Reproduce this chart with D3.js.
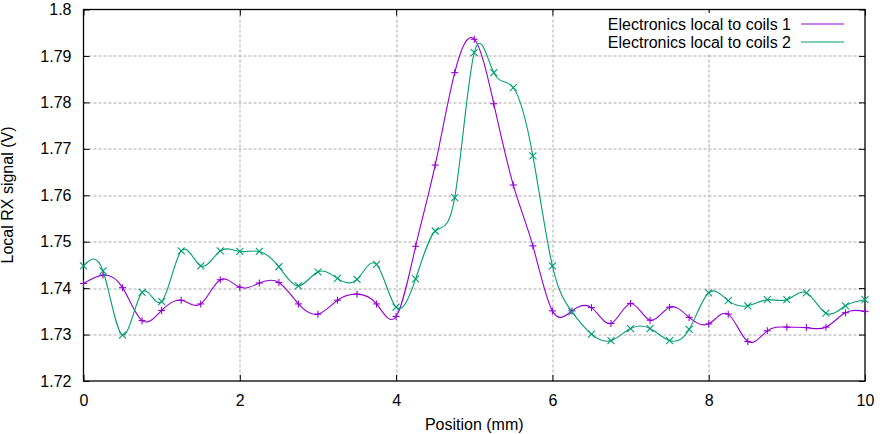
<!DOCTYPE html>
<html>
<head>
<meta charset="utf-8">
<script src="https://cdn.jsdelivr.net/npm/d3@7"></script>
<style>
  body { margin: 0; background: #fff; }
  svg { display: block; font-family: "Liberation Sans", Arial, sans-serif; }
  .grid line { stroke: #a8a8a8; stroke-dasharray: 3,2; stroke-width: 1; }
</style>
</head>
<body>
<div id="chart"></div>
<script>
// positions (mm) where the signal was sampled
var positions = [0, 0.25, 0.5, 0.75, 1, 1.25, 1.5, 1.75, 2, 2.25, 2.5, 2.75, 3, 3.25, 3.5, 3.75,
                 4, 4.25, 4.5, 4.75, 5, 5.25, 5.5, 5.75, 6, 6.25, 6.5, 6.75, 7, 7.25, 7.5, 7.75,
                 8, 8.25, 8.5, 8.75, 9, 9.25, 9.5, 9.75, 10];

var coils1 = [1.7410, 1.7428, 1.7401, 1.7330, 1.7352, 1.7374, 1.7366, 1.7418, 1.7402, 1.7411,
              1.7412, 1.7366, 1.7344, 1.7374, 1.7387, 1.7366, 1.7339, 1.7490, 1.7665, 1.7864,
              1.7936, 1.7797, 1.7622, 1.7491, 1.7351, 1.7351, 1.7358, 1.7324, 1.7367, 1.7331,
              1.7359, 1.7337, 1.7323, 1.7344, 1.7285, 1.7308, 1.7316, 1.7315, 1.7316, 1.7347,
              1.7350];

var coils2 = [1.7448, 1.7437, 1.7299, 1.7391, 1.7371, 1.7480, 1.7448, 1.7480, 1.7479, 1.7479,
              1.7446, 1.7405, 1.7435, 1.7421, 1.7419, 1.7451, 1.7359, 1.7420, 1.7523, 1.7595,
              1.7907, 1.7864, 1.7832, 1.7685, 1.7448, 1.7349, 1.7301, 1.7287, 1.7313, 1.7313,
              1.7287, 1.7311, 1.7390, 1.7373, 1.7362, 1.7375, 1.7375, 1.7390, 1.7346, 1.7362,
              1.7375];

var xTicks = [0, 2, 4, 6, 8, 10];
var yTicks = [1.72, 1.73, 1.74, 1.75, 1.76, 1.77, 1.78, 1.79, 1.8];
var seriesNames = ["Electronics local to coils 1", "Electronics local to coils 2"];
var seriesColors = ["#9400d3", "#009e73"];

var W = 885, H = 434;
var margin = {top: 9.5, right: 20, bottom: 53, left: 83.5};
var width = W - margin.left - margin.right;
var height = H - margin.top - margin.bottom;

var svg = d3.select("#chart").append("svg")
    .attr("width", W)
    .attr("height", H)
  .append("g")
    .attr("transform", "translate(" + margin.left + "," + margin.top + ")");

var x = d3.scaleLinear().domain([0, 10]).range([0, width]);
var y = d3.scaleLinear().domain([1.72, 1.8]).range([height, 0]);

// grid
svg.append("g").attr("class", "grid")
    .selectAll("line").data(yTicks.slice(1, -1)).enter().append("line")
    .attr("x1", 0).attr("x2", width)
    .attr("y1", function(d) { return Math.round(y(d)) + 0.5; })
    .attr("y2", function(d) { return Math.round(y(d)) + 0.5; });
svg.append("g").attr("class", "grid")
    .selectAll("line").data(xTicks.slice(1, -1)).enter().append("line")
    .attr("y1", 0).attr("y2", height)
    .attr("x1", function(d) { return Math.round(x(d)) + 0.5; })
    .attr("x2", function(d) { return Math.round(x(d)) + 0.5; });

// axes (ticks inward, mirrored)
var axisBottom = d3.axisBottom(x).tickValues(xTicks).tickSizeInner(-6).tickSizeOuter(0).tickPadding(14);
var axisTop = d3.axisTop(x).tickValues(xTicks).tickSizeInner(-6).tickSizeOuter(0).tickFormat("");
var axisLeft = d3.axisLeft(y).tickValues(yTicks).tickSizeInner(-6).tickSizeOuter(0).tickPadding(12)
    .tickFormat(function(d) { return d3.format("")(+d.toFixed(2)); });
var axisRight = d3.axisRight(y).tickValues(yTicks).tickSizeInner(-6).tickSizeOuter(0).tickFormat("");

svg.append("g").attr("transform", "translate(0," + height + ")").call(axisBottom);
svg.append("g").call(axisTop);
svg.append("g").call(axisLeft);
svg.append("g").attr("transform", "translate(" + width + ",0)").call(axisRight);

svg.selectAll(".domain").remove();
svg.selectAll(".tick line").attr("stroke", "#000");
svg.selectAll(".tick text").attr("font-size", 16).attr("font-family", "Liberation Sans, Arial, sans-serif").attr("fill", "#000");

// frame
svg.append("rect")
    .attr("x", 0).attr("y", 0).attr("width", width).attr("height", height)
    .attr("fill", "none").attr("stroke", "#000").attr("stroke-width", 1.3);

// key (opaque)
var key = svg.append("g").attr("transform", "translate(" + (W - 94 - margin.left) + "," + (24 - margin.top) + ")");
key.append("rect").attr("x", -190).attr("y", -11).attr("width", 236).attr("height", 40).attr("fill", "#fff");

// curves
var line = d3.line()
    .x(function(d) { return x(d[0]); })
    .y(function(d) { return y(d[1]); })
    .curve(d3.curveNatural);

[coils1, coils2].forEach(function(vals, k) {
  var pts = positions.map(function(p, i) { return [p, vals[i]]; });
  svg.append("path").datum(pts)
      .attr("fill", "none")
      .attr("stroke", seriesColors[k])
      .attr("stroke-width", 1.1)
      .attr("d", line);

  var m = svg.append("g").attr("stroke", seriesColors[k]).attr("stroke-width", 1.1);
  pts.forEach(function(d) {
    var cx = x(d[0]), cy = y(d[1]), s = 3.5;
    if (k === 0) {
      m.append("line").attr("x1", cx - s).attr("x2", cx + s).attr("y1", cy).attr("y2", cy);
      m.append("line").attr("x1", cx).attr("x2", cx).attr("y1", cy - s).attr("y2", cy + s);
    } else {
      m.append("line").attr("x1", cx - s).attr("x2", cx + s).attr("y1", cy - s).attr("y2", cy + s);
      m.append("line").attr("x1", cx - s).attr("x2", cx + s).attr("y1", cy + s).attr("y2", cy - s);
    }
  });
});

// key entries
seriesNames.forEach(function(name, k) {
  key.append("text")
      .attr("x", 0).attr("y", k * 18).attr("dy", "0.35em")
      .attr("text-anchor", "end")
      .attr("font-size", 16)
      .text(name);
  key.append("line")
      .attr("x1", 10).attr("x2", 53)
      .attr("y1", k * 18).attr("y2", k * 18)
      .attr("stroke", seriesColors[k]).attr("stroke-width", 1.1);
});

// axis labels
svg.append("text")
    .attr("x", x(5)).attr("y", height + 49)
    .attr("text-anchor", "middle").attr("font-size", 16)
    .text("Position (mm)");
svg.append("text")
    .attr("transform", "translate(" + (-71) + "," + (195 - margin.top) + ") rotate(-90)")
    .attr("text-anchor", "middle").attr("font-size", 16)
    .text("Local RX signal (V)");
</script>
</body>
</html>
